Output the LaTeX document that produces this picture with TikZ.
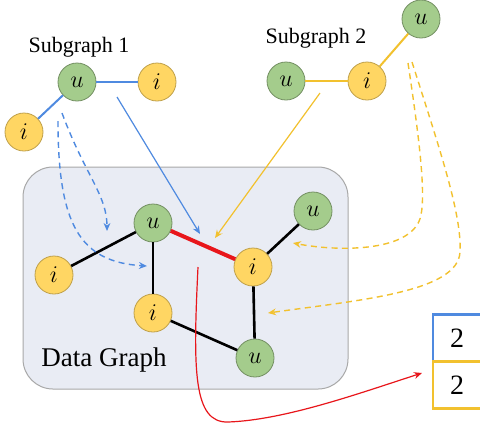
\documentclass[tikz,border=0pt]{standalone}
\usepackage{fontspec}
\setmainfont{Liberation Serif}
\usetikzlibrary{arrows.meta}
\definecolor{ngreen}{HTML}{A4CC8C}
\definecolor{nyellow}{HTML}{FFD663}
\definecolor{eblue}{HTML}{4F8AE0}
\definecolor{eyellow}{HTML}{F2C12E}
\definecolor{boxfill}{HTML}{E9ECF4}
\definecolor{boxedge}{HTML}{A8A8A8}
\definecolor{ered}{HTML}{E8161B}
\tikzset{
  vert/.style={circle, minimum size=19pt, inner sep=0pt, line width=0.4pt, font=\fontsize{12}{12}\selectfont},
  uvert/.style={vert, fill=ngreen, draw=ngreen!70!black},
  ivert/.style={vert, fill=nyellow, draw=nyellow!75!black},
  sgedge/.style={line width=1pt},
  dedge/.style={line width=1.3pt, black},
  tip/.style={-{Stealth[length=4pt,width=3.4pt]}},
  maparrow/.style={tip, line width=0.6pt},
  mapdash/.style={tip, line width=0.7pt, dash pattern=on 3pt off 2.2pt},
  countbox/.style={minimum width=24pt, minimum height=23.5pt, inner sep=0pt, line width=1.3pt, fill=white, font=\fontsize{14}{14}\selectfont},
  caption/.style={font=\fontsize{11}{11}\selectfont}
}
\begin{document}
\begin{tikzpicture}[x=0.5pt,y=-0.5pt]
\clip (0,0) rectangle (480,430);
\fill[white] (0,0) rectangle (480,430);

% data graph panel
\draw[fill=boxfill, draw=boxedge, line width=0.5pt, rounded corners=15pt] (23,167) rectangle (348,389);
\node[font=\fontsize{13.5}{13.5}\selectfont] (dglabel) at (104,360) {Data Graph};

% subgraph 1
\node[caption] (sg1label) at (79,47) {Subgraph 1};
\node[uvert] (a-u) at (77,82) {$u$};
\node[ivert] (a-i1) at (157,82) {$i$};
\node[ivert] (a-i2) at (24,132) {$i$};
\draw[sgedge, eblue] (a-u) -- (a-i1);
\draw[sgedge, eblue] (a-u) -- (a-i2);

% subgraph 2
\node[caption] (sg2label) at (316,38) {Subgraph 2};
\node[uvert] (b-u1) at (286,81) {$u$};
\node[ivert] (b-i) at (367,81) {$i$};
\node[uvert] (b-u2) at (421,19) {$u$};
\draw[sgedge, eyellow] (b-u1) -- (b-i);
\draw[sgedge, eyellow] (b-i) -- (b-u2);

% data graph
\node[uvert] (d-u1) at (153,223) {$u$};
\node[ivert] (d-i1) at (54,275) {$i$};
\node[ivert] (d-i2) at (153,313) {$i$};
\node[uvert] (d-u2) at (313,211) {$u$};
\node[ivert] (d-i3) at (253,267) {$i$};
\node[uvert] (d-u3) at (255,358) {$u$};
\draw[dedge] (d-u1) -- (d-i1);
\draw[dedge] (d-u1) -- (d-i2);
\draw[dedge] (d-i2) -- (d-u3);
\draw[dedge] (d-i3) -- (d-u2);
\draw[dedge] (d-i3) -- (d-u3);
\draw[line width=2pt, ered] (d-u1) -- (d-i3);

% count table
\node[countbox, draw=eblue] (cnt1) at (457,338) {2};
\node[countbox, draw=eyellow] (cnt2) at (457,385) {2};

% mapping arrows
\coordinate (s1) at (117,97);
\coordinate (t1) at (200,234);
\coordinate (s2) at (320,93);
\coordinate (t2) at (215,238);
\draw[maparrow, eblue] (s1) -- (t1);
\draw[maparrow, eyellow] (s2) -- (t2);

\coordinate (bd1s) at (62,113);
\coordinate (bd1t) at (107,231);
\coordinate (bd2s) at (58,121);
\coordinate (bd2t) at (147,266);
\draw[mapdash, eblue] (bd1s) .. controls (85,175) and (107,195) .. (bd1t);
\draw[mapdash, eblue] (bd2s) .. controls (58,225) and (80,262) .. (bd2t);

\coordinate (yd1s) at (408,63);
\coordinate (yd1m) at (421,215);
\coordinate (yd1t) at (293,243);
\coordinate (yd2s) at (412,62);
\coordinate (yd2m) at (460,252);
\coordinate (yd2t) at (268,313);
\draw[mapdash, eyellow] (yd1s) .. controls (418,130) and (426,190) .. (yd1m) .. controls (414,252) and (340,252) .. (yd1t);
\draw[mapdash, eyellow] (yd2s) .. controls (440,150) and (462,215) .. (yd2m) .. controls (458,292) and (360,300) .. (yd2t);

% count result
\coordinate (rs) at (198,267);
\coordinate (rm) at (228,422);
\coordinate (rt) at (422,373);
\draw[maparrow, ered] (rs) .. controls (193,370) and (193,423) .. (rm) .. controls (285,420) and (360,393) .. (rt);
\end{tikzpicture}
\end{document}
